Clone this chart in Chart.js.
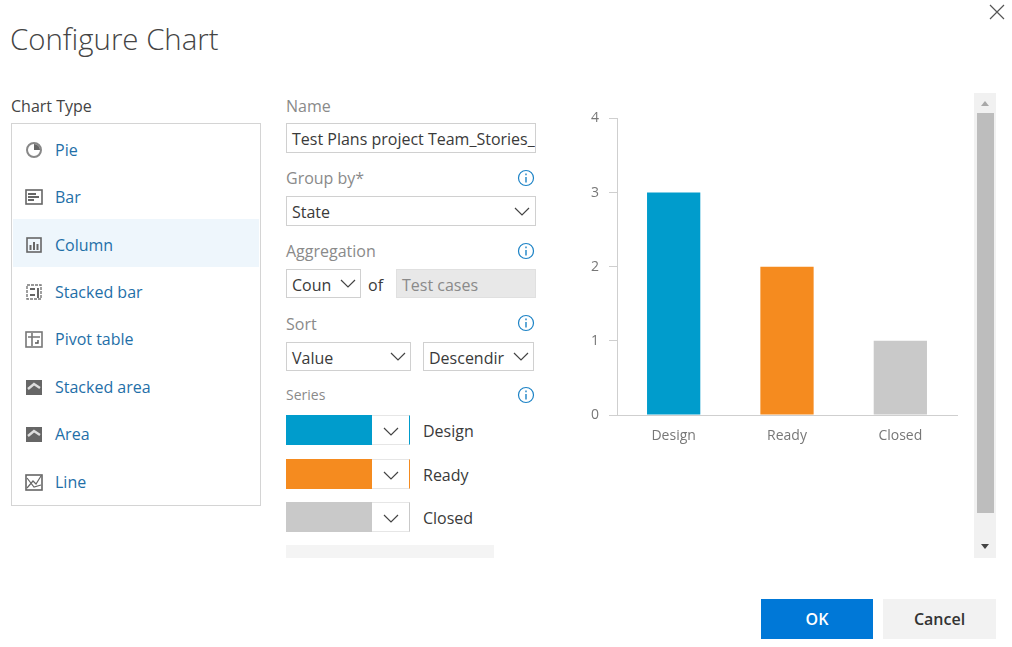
<!DOCTYPE html>
<html>
<head>
<meta charset="utf-8">
<title>Configure Chart</title>
<script src="https://cdn.jsdelivr.net/npm/chart.js@4"></script>
<style>
    html, body { margin: 0; padding: 0; background: #fff; }
    body { width: 1012px; height: 647px; position: relative; overflow: hidden; font-family: "Open Sans", sans-serif; font-size: 16px; color: #3a3a3a; }
    .abs { position: absolute; box-sizing: border-box; white-space: nowrap; }
    .label { color: #8a8a8a; font-size: 16px; line-height: 22px; }
    .field { border: 1px solid #d0d0d0; background: #fff; line-height: 31px; padding-left: 5px; overflow: hidden; }
    .chev { position: absolute; }
    .info { position: absolute; width: 18px; height: 18px; }
    .type { position: absolute; left: 55px; color: #1f6fa8; font-size: 16px; line-height: 22px; }
    .icon { position: absolute; left: 25px; width: 18px; height: 18px; }
    #chart-wrap { position: absolute; left: 580px; top: 100px; width: 385px; height: 360px; }
</style>
</head>
<body>
<div class="abs" style="left:10px;top:18px;font-size:29.4px;font-weight:300;line-height:42px;color:#444">Configure Chart</div>
<svg class="abs" style="left:989px;top:4px" width="16" height="16"><path d="M1 1L15 15M15 1L1 15" stroke="#555" stroke-width="1.2" fill="none"/></svg>

<div class="abs" style="left:11px;top:95px;line-height:22px;color:#444">Chart Type</div>
<div class="abs" style="left:11px;top:123px;width:250px;height:383px;border:1px solid #d4d4d4"></div>
<div class="abs" style="left:13px;top:219px;width:246px;height:48px;background:#eef6fc"></div>
<div id="type-list"></div>

<div class="abs label" style="left:286px;top:95px">Name</div>
<div class="abs field" style="left:286px;top:123px;width:250px;height:30px">Test Plans project Team_Stories_</div>
<div class="abs label" style="left:286px;top:167px">Group by*</div>
<div class="abs field" style="left:286px;top:196px;width:250px;height:30px">State</div>
<div class="abs label" style="left:286px;top:240px">Aggregation</div>
<div class="abs field" style="left:286px;top:269px;width:75px;height:29px">Coun</div>
<div class="abs" style="left:368px;top:274px;line-height:22px">of</div>
<div class="abs field" style="left:396px;top:269px;width:140px;height:29px;background:#e8e8e8;color:#8a8a8a;border-color:#e0e0e0">Test cases</div>
<div class="abs label" style="left:286px;top:313px">Sort</div>
<div class="abs field" style="left:286px;top:342px;width:125px;height:29px">Value</div>
<div class="abs field" style="left:423px;top:342px;width:111px;height:29px">Descendir</div>
<div class="abs label" style="left:286px;top:384px;font-size:14px">Series</div>
<div id="series-list"></div>
<div class="abs" style="left:286px;top:545px;width:208px;height:13px;background:#f4f4f4"></div>
<div id="decor"></div>

<div id="chart-wrap"><canvas id="columnChart"></canvas></div>

<div class="abs" style="left:974px;top:93px;width:22px;height:465px;background:#f1f1f1"></div>
<div class="abs" style="left:977px;top:113px;width:17px;height:400px;background:#bdbdbd"></div>
<svg class="abs" style="left:980px;top:100px" width="10" height="7"><path d="M1 6L5 1L9 6Z" fill="#a8a8a8"/></svg>
<svg class="abs" style="left:980px;top:543px" width="10" height="7"><path d="M1 1L5 6L9 1Z" fill="#444"/></svg>

<div class="abs" style="left:761px;top:599px;width:112px;height:40px;background:#0078d7;color:#fff;font-weight:600;text-align:center;line-height:41px">OK</div>
<div class="abs" style="left:883px;top:599px;width:113px;height:40px;background:#f2f2f2;color:#333;font-weight:600;text-align:center;line-height:41px">Cancel</div>

<script>
const categories = ['Design', 'Ready', 'Closed'];
const seriesValues = [3, 2, 1];
const seriesColors = ['#009ccc', '#f58b1f', '#c9c9c9'];
const yTicks = [0, 1, 2, 3, 4];
const chartTypes = ['Pie', 'Bar', 'Column', 'Stacked bar', 'Pivot table', 'Stacked area', 'Area', 'Line'];

const iconPaths = {
    'Pie': '<circle cx="9" cy="9" r="7" fill="none" stroke="#888" stroke-width="2"/><path d="M9 9V3A6 6 0 0 1 15 9Z" fill="#666"/>',
    'Bar': '<rect x="1" y="2" width="16" height="14" fill="none" stroke="#666" stroke-width="1.6"/><path d="M3 6H11M3 9H14M3 12H9" stroke="#666" stroke-width="2"/>',
    'Column': '<rect x="2" y="2" width="14" height="14" fill="none" stroke="#666" stroke-width="1.6"/><path d="M5.5 14V9M9 14V6M12.5 14V8" stroke="#666" stroke-width="2"/>',
    'Stacked bar': '<rect x="2" y="2" width="14" height="14" fill="none" stroke="#777" stroke-width="1.4" stroke-dasharray="3 1"/><path d="M5 12H10M5 6H10M13 5V15" stroke="#666" stroke-width="2"/>',
    'Pivot table': '<rect x="1" y="2" width="16" height="15" fill="none" stroke="#777" stroke-width="1.6"/><path d="M3 7H15M7 3V16" stroke="#777" stroke-width="1.6"/><path d="M10 13H13V10" stroke="#555" stroke-width="1.4" fill="none"/>',
    'Stacked area': '<rect x="1" y="2" width="16" height="15" fill="#666"/><path d="M3 11L9 6L15 10" stroke="#ddd" stroke-width="2.4" fill="none"/>',
    'Area': '<rect x="1" y="2" width="16" height="15" fill="#666"/><path d="M3 11L9 6L15 10" stroke="#ddd" stroke-width="2.4" fill="none"/>',
    'Line': '<rect x="1" y="2" width="16" height="15" fill="none" stroke="#666" stroke-width="1.6"/><path d="M2 15L8 8L11 11L16 3M2 5L9 14L16 12" stroke="#666" stroke-width="1.2" fill="none"/>',
};

const chevron = (x, y) => `<svg class="chev" style="left:${x}px;top:${y}px" width="16" height="9"><path d="M1 1L8 8L15 1" stroke="#444" stroke-width="1.2" fill="none"/></svg>`;
const infoIcon = (x, y) => `<svg class="info" style="left:${x}px;top:${y}px"><circle cx="9" cy="9" r="7.5" fill="none" stroke="#1d83c6" stroke-width="1.2"/><path d="M9 8V13.5M9 4.5V6.2" stroke="#1d83c6" stroke-width="1.4"/></svg>`;

// chart type list on the left
document.getElementById('type-list').innerHTML = chartTypes.map((name, i) => {
    const top = 149.7 + i * 47.4;
    return `<svg class="icon" style="top:${top - 9}px" viewBox="0 0 18 18">${iconPaths[name]}</svg>` +
        `<div class="type" style="top:${top - 11}px">${name}</div>`;
}).join('');

// series colour pickers
const swatchTops = [415, 459, 502];
document.getElementById('series-list').innerHTML = categories.map((name, i) => {
    const top = swatchTops[i];
    return `<div class="abs" style="left:286px;top:${top}px;width:124px;height:30px;border:1px solid #e6e6e6;border-right:1px solid ${seriesColors[i]}"></div>` +
        `<div class="abs" style="left:286px;top:${top}px;width:86px;height:30px;background:${seriesColors[i]}"></div>` +
        chevron(383, top + 12) +
        `<div class="abs" style="left:423px;top:${top + 5}px;line-height:22px">${name}</div>`;
}).join('');

document.getElementById('decor').innerHTML =
    chevron(514, 207) + chevron(340, 279) + chevron(390, 352) + chevron(513, 352) +
    infoIcon(517, 169) + infoIcon(517, 242) + infoIcon(517, 314) + infoIcon(517, 386);

const columnChartEl = document.getElementById('columnChart');
new Chart(columnChartEl, {
    type: 'bar',
    data: {
        labels: categories,
        datasets: [
            {
                data: seriesValues,
                backgroundColor: seriesColors,
                borderWidth: 0,
                barPercentage: 0.47,
                categoryPercentage: 1,
            },
        ],
    },
    options: {
        responsive: true,
        maintainAspectRatio: false,
        animation: false,
        layout: {
            padding: { top: 13, right: 8, bottom: 0, left: 0 },
        },
        plugins: {
            legend: { display: false },
            tooltip: { enabled: false },
        },
        scales: {
            x: {
                afterFit: (scale) => { scale.height = 45; },
                grid: { display: false },
                border: { color: '#cfcfcf' },
                ticks: {
                    color: '#777',
                    font: { family: 'Open Sans', size: 14 },
                    padding: 5,
                    maxRotation: 0,
                },
            },
            y: {
                min: 0,
                max: yTicks[yTicks.length - 1],
                afterFit: (scale) => { scale.width = 37; },
                afterBuildTicks: (scale) => { scale.ticks = yTicks.map((value) => ({ value })); },
                grid: {
                    drawOnChartArea: false,
                    tickLength: 8,
                    tickColor: '#cfcfcf',
                },
                border: { color: '#cfcfcf' },
                ticks: {
                    color: '#777',
                    font: { family: 'Open Sans', size: 14 },
                    padding: 10,
                },
            },
        },
    },
});
</script>
</body>
</html>
